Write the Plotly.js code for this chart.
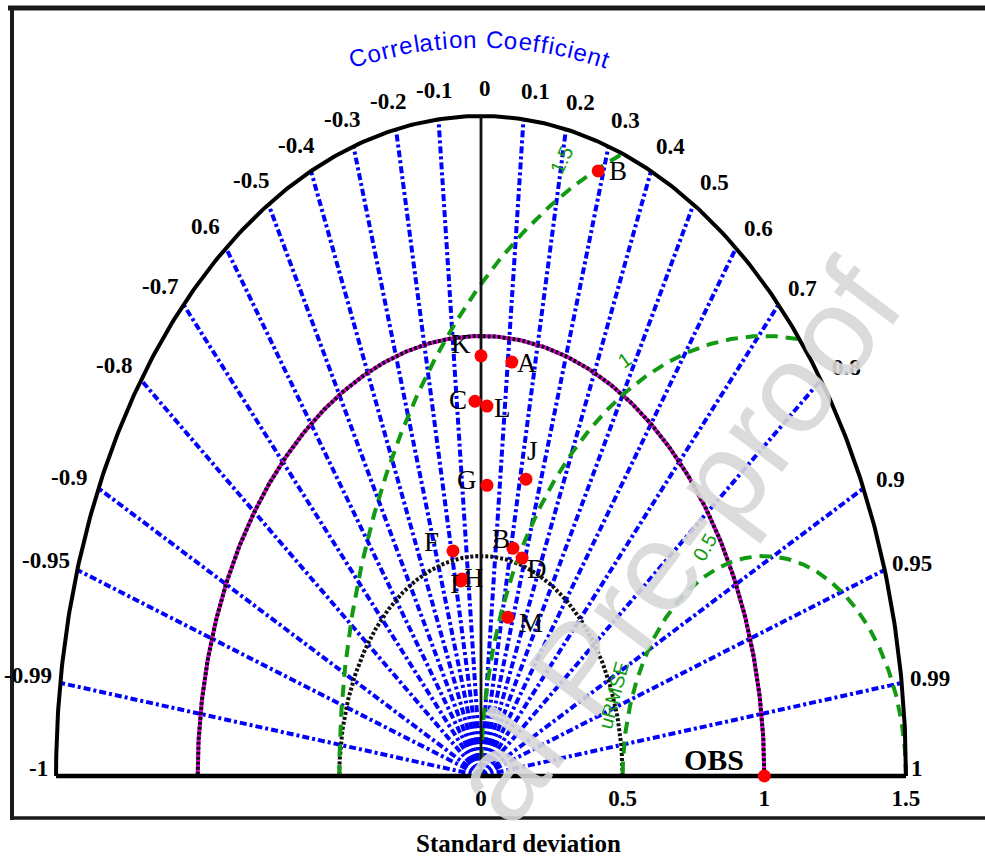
<!DOCTYPE html>
<html><head><meta charset="utf-8">
<script src="https://cdn.plot.ly/plotly-3.0.1.min.js"></script>
<style>html,body{margin:0;padding:0;background:#fff}#chart{width:985px;height:861px}</style>
</head><body><div id="chart"></div>
<script>
// ---------------- data ----------------
const corrLines = [-0.99,-0.95,-0.9,-0.8,-0.7,-0.6,-0.5,-0.4,-0.3,-0.2,-0.1,0.1,0.2,0.3,0.4,0.5,0.6,0.7,0.8,0.9,0.95,0.99];
const corrLabelValues = [-1,-0.99,-0.95,-0.9,-0.8,-0.7,-0.6,-0.5,-0.4,-0.3,-0.2,-0.1,0,0.1,0.2,0.3,0.4,0.5,0.6,0.7,0.8,0.9,0.95,0.99,1];
const corrLabelText = ['-1','-0.99','-0.95','-0.9','-0.8','-0.7','0.6','-0.5','-0.4','-0.3','-0.2','-0.1','0','0.1','0.2','0.3','0.4','0.5','0.6','0.7','0.8','0.9','0.95','0.99','1'];
const sdMax = 1.5;
const sdArcs = [0.5, 1.0];
const rmsdLevels = [0.5, 1.0, 1.5];
const rmsdLabels = ['0.5', '1', '1.5'];
const sdTicks = [0, 0.5, 1, 1.5];
const sdTickText = ['0', '0.5', '1', '1.5'];
const models    = ['B',   'K',   'A',   'C',    'L',   'G',   'J',   'F',   'B',   'D',   'H',    'I',    'M'];
const modelSD   = [1.436, 0.955, 0.947, 0.852,  0.841, 0.661, 0.693, 0.521, 0.530, 0.516, 0.453,  0.449,  0.373];
const modelCorr = [0.288, 0.000, 0.115, -0.025, 0.025, 0.032, 0.229, -0.190, 0.213, 0.281, -0.148, -0.158, 0.255];
const obsSD = 1.0, obsCorr = 1.0;

// ---------------- layout helpers ----------------
const W = 985, H = 861;
const X0PX = 481, Y0PX = 776, SX = 283.3, SY = 440;
const px = p => p / W, py = p => 1 - p / H;
const toX = (sd, r) => sd * r;
const toY = (sd, r) => sd * Math.sqrt(Math.max(0, 1 - r * r));

// label shifts (pixels) for model labels, same order as models
const labelShift = [[20,0],[-20,12],[15,-1],[-17,1],[16,-2],[-20,5],[7,28],[-21,9],[-12,9],[15,-11],[12,1],[-6,-3],[23,-6]];

const traces = [];
const skip = {hoverinfo: 'skip', showlegend: false, mode: 'lines'};

// blue correlation rays
corrLines.forEach(r => {
  traces.push(Object.assign({x: [0, toX(sdMax, r)], y: [0, toY(sdMax, r)],
    line: {color: '#0000ff', width: 4, dash: '7px,3px,3px,3px'}}, skip));
});

// std-dev arcs
function arc(sd, n) {
  const xs = [], ys = [];
  for (let i = 0; i <= n; i++) { const t = Math.PI * i / n; xs.push(sd * Math.cos(t)); ys.push(sd * Math.sin(t)); }
  return [xs, ys];
}
{
  const [x1, y1] = arc(sdArcs[1], 300);
  traces.push(Object.assign({x: x1, y: y1, line: {color: '#e000e0', width: 4}}, skip));
  traces.push(Object.assign({x: x1, y: y1, line: {color: '#111', width: 4, dash: '3px,2px'}}, skip));
  const [x0, y0] = arc(sdArcs[0], 200);
  traces.push(Object.assign({x: x0, y: y0, line: {color: '#111', width: 4, dash: '3px,2px'}}, skip));
}

// RMSD contours (centred on OBS)
rmsdLevels.forEach(R => {
  const xs = [], ys = [];
  for (let i = 0; i <= 400; i++) {
    const f = Math.PI * i / 400, X = obsSD + R * Math.cos(f), Y = R * Math.sin(f);
    if (X * X + Y * Y <= sdMax * sdMax + 1e-9) { xs.push(X); ys.push(Y); }
  }
  traces.push(Object.assign({x: xs, y: ys, line: {color: '#129a12', width: 4, dash: '12px,8px'}}, skip));
});

// outer frame of the diagram
{
  const [xo, yo] = arc(sdMax, 400);
  traces.push(Object.assign({x: xo, y: yo, line: {color: '#000', width: 4}}, skip));
  traces.push(Object.assign({x: [-sdMax, sdMax], y: [0, 0], line: {color: '#000', width: 4.5}}, skip));
  traces.push(Object.assign({x: [0, 0], y: [0, sdMax], line: {color: '#111', width: 2.8}}, skip));
}

// points
traces.push({x: modelSD.map((s, i) => toX(s, modelCorr[i])), y: modelSD.map((s, i) => toY(s, modelCorr[i])),
  mode: 'markers', marker: {color: '#ff0000', size: 13}, hoverinfo: 'skip', showlegend: false, cliponaxis: false});
traces.push({x: [toX(obsSD, obsCorr)], y: [toY(obsSD, obsCorr)], mode: 'markers',
  marker: {color: '#ff0000', size: 13}, hoverinfo: 'skip', showlegend: false, cliponaxis: false});

// ---------------- annotations ----------------
const ann = [];
const serif = 'Liberation Serif, Times New Roman, serif';
const mid = {xanchor: 'center', yanchor: 'middle', showarrow: false};

// correlation tick labels
corrLabelValues.forEach((r, i) => {
  const a = Object.assign({x: toX(sdMax, r), y: toY(sdMax, r), xref: 'x', yref: 'y', text: corrLabelText[i],
    font: {family: serif, size: 23, color: '#000', weight: 'bold'}}, mid);
  if (r === 1) { Object.assign(a, {xanchor: 'left', xshift: 3, yshift: 8}); }
  else if (r === -1) { Object.assign(a, {xanchor: 'right', xshift: -6, yshift: 8}); }
  else {
    const s = 1 - r * r;
    if (r > 0) { a.xshift = 4 + 24 * Math.sqrt(r); a.yshift = 4 + 24 * s; }
    else if (r < 0) { a.xshift = -33 * Math.pow(-r, 0.9); a.yshift = 7 + 22 * s; }
    else { a.xshift = 4; a.yshift = 28; }
  }
  ann.push(a);
});

// model labels
models.forEach((m, i) => {
  ann.push(Object.assign({x: toX(modelSD[i], modelCorr[i]), y: toY(modelSD[i], modelCorr[i]), text: m,
    xshift: labelShift[i][0], yshift: labelShift[i][1], font: {family: serif, size: 27, color: '#000'}}, mid));
});
ann.push(Object.assign({x: toX(obsSD, obsCorr), y: toY(obsSD, obsCorr), text: 'OBS', xshift: -50, yshift: 17,
  font: {family: serif, size: 30, color: '#000', weight: 'bold'}}, mid));

// RMSD labels
const rmsdLabelPos = [[114.7, 0, 29, -60], [119.5, 0, 33, -35], [118, -3, 33, -65]];
rmsdLevels.forEach((R, i) => {
  const f = rmsdLabelPos[i][0] * Math.PI / 180;
  ann.push(Object.assign({x: obsSD + R * Math.cos(f), y: R * Math.sin(f), text: rmsdLabels[i],
    xshift: rmsdLabelPos[i][1], yshift: rmsdLabelPos[i][2], textangle: rmsdLabelPos[i][3],
    font: {family: 'Liberation Sans, Arial, sans-serif', size: 20, color: '#129a12'}}, mid));
});
ann.push(Object.assign({x: 0.5, y: 0.184, text: 'uRMSE', xshift: -9, textangle: -75,
  font: {family: 'Liberation Sans, Arial, sans-serif', size: 20, color: '#129a12'}}, mid));

// x axis title
ann.push(Object.assign({xref: 'paper', yref: 'paper', x: px(518), y: py(843), text: 'Standard deviation',
  font: {family: serif, size: 25, color: '#000', weight: 'bold'}}, mid));

// curved title
{
  const title = 'Correlation Coefficient';
  const cw = {C: .722, o: .556, r: .333, e: .556, l: .222, a: .556, t: .278, i: .222, n: .556, ' ': .278, f: .278, c: .5};
  const fs = 24, gap = 1.2, R = 400, cx = 479, cy = 439;
  const ws = [...title].map(ch => cw[ch] * fs + gap);
  const total = ws.reduce((a, b) => a + b, 0);
  let s = -total / 2;
  [...title].forEach((ch, k) => {
    const m = s + ws[k] / 2; s += ws[k];
    if (ch === ' ') return;
    const ang = m / R;
    ann.push(Object.assign({xref: 'paper', yref: 'paper', x: px(cx + R * Math.sin(ang)), y: py(cy - R * Math.cos(ang)),
      text: ch, textangle: ang * 180 / Math.PI,
      font: {family: 'Liberation Sans, Arial, sans-serif', size: fs, color: '#0000ff'}}, mid));
  });
}

// watermark (visible part)
ann.push(Object.assign({xref: 'paper', yref: 'paper', x: px(674), y: py(542), text: 'al Pre-proof',
  textangle: -53, font: {family: 'Liberation Sans, Arial, sans-serif', size: 126, color: 'rgba(215,215,215,0.9)'}}, mid));

// ---------------- figure frame ----------------
const shapes = [
  {type: 'line', xref: 'paper', yref: 'paper', x0: px(8), x1: px(985), y0: py(8), y1: py(8), line: {color: '#1a1a1a', width: 5}},
  {type: 'line', xref: 'paper', yref: 'paper', x0: px(12), x1: px(12), y0: py(8), y1: py(820), line: {color: '#1a1a1a', width: 4}},
  {type: 'line', xref: 'paper', yref: 'paper', x0: px(12), x1: px(985), y0: py(818), y1: py(818), line: {color: '#1a1a1a', width: 3.5}}
];

const layout = {
  width: W, height: H, margin: {l: 0, r: 0, t: 0, b: 0}, paper_bgcolor: '#fff', plot_bgcolor: 'rgba(0,0,0,0)',
  showlegend: false,
  xaxis: {range: [-X0PX / SX, (W - X0PX) / SX], showgrid: false, zeroline: false, showline: false, ticks: '',
    tickvals: sdTicks, ticktext: sdTickText, tickfont: {family: serif, size: 23, color: '#000', weight: 'bold'},
    anchor: 'free', position: (H - Y0PX) / H, automargin: false, fixedrange: true, ticklabelstandoff: 6},
  yaxis: {range: [(Y0PX - H) / SY, Y0PX / SY], visible: false, fixedrange: true},
  shapes: shapes, annotations: ann
};
Plotly.newPlot('chart', traces, layout, {staticPlot: true, displayModeBar: false});
</script></body></html>
